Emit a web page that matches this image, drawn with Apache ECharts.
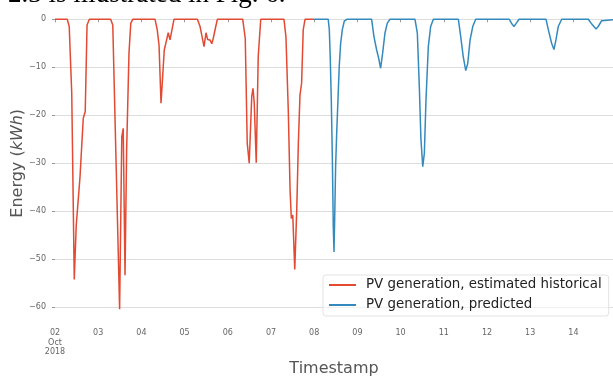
<!DOCTYPE html>
<html>
<head>
<meta charset="utf-8">
<script src="https://cdn.jsdelivr.net/npm/echarts@6/dist/echarts.min.js"></script>
<style>html,body{margin:0;padding:0;background:#fff;}#c{width:613px;height:376px;}</style>
</head>
<body>
<div id="c"></div>
<script>
// Hours since 2018-10-02 00:00 and energy values (kWh)
var histHours = [0, 6.8, 7.9, 9.3, 10.7, 11.8, 12.9, 13.9, 15.7, 16.8, 17.8, 19.1,
  30.9, 32.1, 35.9, 37.1, 37.9, 38.9, 39.8, 41.1, 42.1, 43.2,
  55.6, 56.8, 57.8, 58.9, 59.8, 60.7, 62.0, 62.9, 63.9, 64.8, 66.1,
  79.1, 80.6, 81.7, 82.8, 83.9, 84.8, 86.1, 87.1, 87.9, 89.3, 90.2,
  104.3, 105.7, 106.8, 107.9, 109.3, 110.0, 110.7, 111.8, 112.9, 114.3,
  127.2, 128.3, 129.6, 130.6, 131.3, 132.1, 133.2, 134.3, 135.2, 136.1, 137.0, 137.9, 138.9, 144];
var histValues = [0, 0, -1.5, -15.4, -54.2, -42.9, -42.9, -32.8, -20.6, -19.2, -1.2, 0,
  0, -1.2, -60.4, -24.5, -22.7, -53.3, -27.2, -7.1, -0.8, 0,
  0, -2.2, -5.4, -17.5, -12, -6.4, -4.3, -2.8, -4.3, -4, 0,
  0, -1.5, -3.6, -5.7, -2.8, -4.2, -4.3, -5.1, -4, -1.5, 0,
  0, -4, -25.8, -30, -16.1, -14.4, -17.5, -29.9, -7.8, 0,
  0, -3.6, -18.9, -35.6, -41.5, -40.8, -52.1, -39.7, -25.8, -15.8, -13.3, -2.2, 0, 0];

var predHours = [144, 151.8, 152.4, 152.9, 153.5, 154.1, 154.6, 155.0, 155.4, 155.9, 156.5, 157.2, 157.9, 158.7, 159.6, 160.7, 162.1,
  175.9, 177.2, 178.7, 179.8, 180.9, 182.0, 183.3, 184.6, 186.1,
  200.0, 201.3, 202.4, 203.3, 204.3, 205.2, 206.1, 207.4, 208.7, 210.2,
  224.1, 225.4, 226.8, 228.2, 229.3, 230.6, 232.1, 233.7,
  252.4, 253.9, 255.0, 256.5, 257.8,
  272.8, 274.1, 275.9, 277.2, 278.3, 279.6, 281.5,
  296.3, 298.2, 300.6, 301.8, 303.7, 304.6, 312];
var predValues = [0, 0, -2.2, -7.8, -16.8, -29.3, -43.2, -48.5, -41.1, -30.7, -23.7, -16.8, -9.9, -5, -2.2, -0.4, 0,
  0, -3.6, -6.4, -8.1, -10.2, -7.1, -2.9, -0.8, 0,
  0, -2.9, -14, -25, -30.7, -27.9, -16.8, -5.7, -1.5, 0,
  0, -3.6, -7.8, -10.7, -9.2, -4.3, -1.5, 0,
  0, -1, -1.5, -0.7, 0,
  0, -2.2, -5, -6.3, -4.3, -1.5, 0,
  0, -1, -2, -1.5, -0.3, 0, 0];

var yTicks = [0, -10, -20, -30, -40, -50, -60];
var seriesNames = ['PV generation, estimated historical', 'PV generation, predicted'];

function pairs(h, v) { return h.map(function (x, i) { return [x, v[i]]; }); }

var FONT = 'DejaVu Sans';
var chart = echarts.init(document.getElementById('c'), null, { renderer: 'canvas' });
chart.setOption({
  animation: false,
  backgroundColor: '#ffffff',
  grid: { left: 55, right: 0, top: 19.3, bottom: 68.7, containLabel: false, outerBoundsMode: 'none' },
  xAxis: {
    type: 'value', min: 0, max: 310, interval: 24,
    offset: 16,
    axisLine: { show: false },
    axisTick: { show: true, length: 3, lineStyle: { color: '#999', width: 1 } },
    splitLine: { show: false },
    axisLabel: {
      margin: 5, fontSize: 8, lineHeight: 9.6, color: '#666', fontFamily: FONT,
      formatter: function (v) {
        if (v % 24 !== 0) return '';
        var d = 2 + v / 24;
        var s = (d < 10 ? '0' : '') + d;
        return v === 0 ? s + '\nOct\n2018' : s;
      }
    },
    name: 'Timestamp', nameLocation: 'middle', nameGap: 38, nameMoveOverlap: false,
    nameTextStyle: { fontSize: 16, color: '#555', fontFamily: FONT }
  },
  yAxis: {
    type: 'value', min: -60, max: 0, interval: 10,
    offset: 5,
    axisLine: { show: false },
    axisTick: { show: true, length: 3, lineStyle: { color: '#999', width: 1 } },
    splitLine: { show: true, lineStyle: { color: '#dddddd', width: 1 } },
    axisLabel: {
      margin: 4, fontSize: 8, color: '#666', fontFamily: FONT,
      formatter: function (v) {
        if (yTicks.indexOf(v) < 0) return '';
        return v < 0 ? '\u2212' + (-v) : String(v);
      }
    },
    name: '{n|Energy (}{i|kWh}{n|)}', nameLocation: 'middle', nameRotate: 90, nameGap: 24, nameMoveOverlap: false,
    nameTextStyle: {
      rich: {
        n: { fontSize: 16, color: '#555', fontFamily: FONT },
        i: { fontSize: 16, color: '#555', fontFamily: FONT, fontStyle: 'italic' }
      }
    }
  },
  legend: {
    data: seriesNames,
    orient: 'vertical',
    left: 323, top: 275,
    padding: [3, 7, 4, 6],
    itemGap: 6,
    itemWidth: 27, itemHeight: 2,
    icon: 'rect',
    backgroundColor: 'rgba(255,255,255,0.6)',
    borderColor: '#e3e3e3', borderWidth: 1, borderRadius: 3,
    textStyle: { fontSize: 13.4, lineHeight: 14, color: '#222', fontFamily: FONT, padding: [0, 0, 0, 5] }
  },
  graphic: [{
    type: 'text', left: 8, top: -19,
    style: { text: '2.3 is illustrated in Fig. 6.', font: '27px "Liberation Serif"', fill: '#000' }
  }],
  series: [
    {
      name: seriesNames[0], type: 'line', data: pairs(histHours, histValues),
      showSymbol: false, symbol: 'none', clip: false,
      lineStyle: { color: '#E24A33', width: 1.5 }, itemStyle: { color: '#E24A33' }
    },
    {
      name: seriesNames[1], type: 'line', data: pairs(predHours, predValues),
      showSymbol: false, symbol: 'none', clip: false,
      lineStyle: { color: '#348ABD', width: 1.5 }, itemStyle: { color: '#348ABD' }
    }
  ]
});
</script>
</body>
</html>
